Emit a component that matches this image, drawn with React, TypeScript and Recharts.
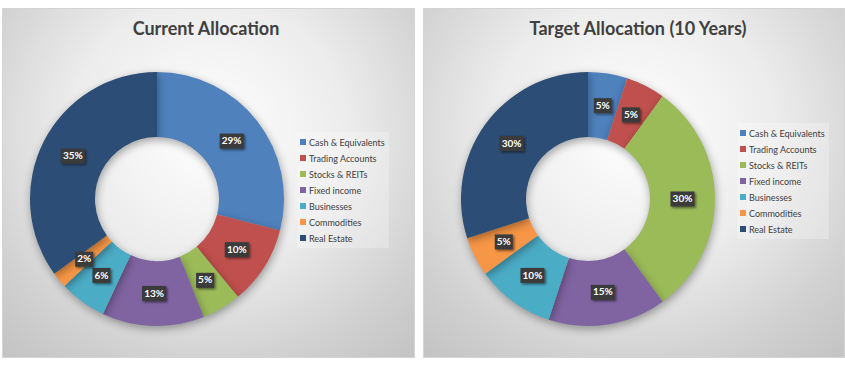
import { Cell, Legend, Pie, PieChart } from "recharts";

const categories = [
  "Cash & Equivalents",
  "Trading Accounts",
  "Stocks & REITs",
  "Fixed income",
  "Businesses",
  "Commodities",
  "Real Estate",
];
const currentValues = [29, 10, 5, 13, 6, 2, 35];
const targetValues = [5, 5, 30, 15, 10, 5, 30];

const colors = ["#4f81bd", "#c0504d", "#9bbb59", "#8064a2", "#4bacc6", "#f79646", "#2c4d75"];
const FONT = "Lato, 'Open Sans', sans-serif";
const RAD = Math.PI / 180;

function renderLabel(props: any) {
  const { cx, cy, midAngle, innerRadius, outerRadius, value } = props;
  const r = (innerRadius + outerRadius) / 2;
  const x = cx + r * Math.cos(-midAngle * RAD);
  const y = cy + r * Math.sin(-midAngle * RAD);
  const txt = `${value}%`;
  const w = txt.length * 6 + 6;
  return (
    <g>
      <rect x={x - w / 2} y={y - 7.5} width={w} height={15} fill="#3b3b3b" filter="url(#lblShadow)" />
      <text
        x={x}
        y={y + 0.5}
        textAnchor="middle"
        dominantBaseline="middle"
        fill="#fff"
        fontSize={10}
        fontWeight={700}
        fontFamily={FONT}
      >
        {txt}
      </text>
    </g>
  );
}

function LegendBox() {
  return (
    <div
      style={{
        background: "rgba(255,255,255,0.25)",
        padding: "2px 4px 2px 3px",
        fontFamily: FONT,
        fontSize: 9,
        color: "#404040",
      }}
    >
      {categories.map((c, i) => (
        <div key={c} style={{ display: "flex", alignItems: "center", height: 16 }}>
          <span style={{ width: 6, height: 6, background: colors[i], marginRight: 3 }} />
          {c}
        </div>
      ))}
    </div>
  );
}

function DonutPanel({
  title,
  values,
  left,
  width,
  cx,
  titleX,
  legendX,
  legendY,
}: {
  title: string;
  values: number[];
  left: number;
  width: number;
  cx: number;
  titleX: number;
  legendX: number;
  legendY: number;
}) {
  const data = categories.map((name, i) => ({ name, value: values[i] }));
  return (
    <div
      style={{
        position: "absolute",
        left,
        top: 8,
        width,
        height: 350,
        boxSizing: "border-box",
        border: "1px solid #d4d4d4",
        background:
          "radial-gradient(ellipse 75% 85% at 50% 35%, #ffffff 0%, #ececec 45%, #d0d0d0 80%, #c4c4c4 100%)",
      }}
    >
      <div
        style={{
          position: "absolute",
          left: titleX - 150,
          width: 300,
          top: 8,
          textAlign: "center",
          fontFamily: FONT,
          fontWeight: 700,
          fontSize: 18,
          color: "#404040",
        }}
      >
        {title}
      </div>
      <PieChart width={width - 2} height={348} margin={{ top: 0, right: 0, bottom: 0, left: 0 }}>
        <defs>
          <filter id="lblShadow" x="-30%" y="-30%" width="170%" height="170%">
            <feDropShadow dx="1.5" dy="1.5" stdDeviation="1" floodColor="#000" floodOpacity="0.5" />
          </filter>
        </defs>
        <Pie
          data={data}
          dataKey="value"
          nameKey="name"
          cx={cx}
          cy={190}
          innerRadius={62}
          outerRadius={127}
          startAngle={90}
          endAngle={-270}
          stroke="none"
          label={renderLabel}
          labelLine={false}
          isAnimationActive={false}
          style={{ filter: "drop-shadow(1px 3px 4px rgba(0,0,0,0.35))" }}
        >
          {data.map((d, i) => (
            <Cell key={d.name} fill={colors[i]} />
          ))}
        </Pie>
        <Legend
          layout="vertical"
          content={() => <LegendBox />}
          wrapperStyle={{ left: legendX, top: legendY, width: "auto" }}
        />
      </PieChart>
    </div>
  );
}

export default function App() {
  return (
    <div style={{ position: "absolute", left: 0, top: 0, width: 845, height: 365, background: "#fff" }}>
      <DonutPanel
        title="Current Allocation"
        values={currentValues}
        left={2}
        width={413}
        cx={154}
        titleX={203}
        legendX={294}
        legendY={123}
      />
      <DonutPanel
        title="Target Allocation (10 Years)"
        values={targetValues}
        left={423}
        width={422}
        cx={164}
        titleX={214}
        legendX={313}
        legendY={114}
      />
    </div>
  );
}
